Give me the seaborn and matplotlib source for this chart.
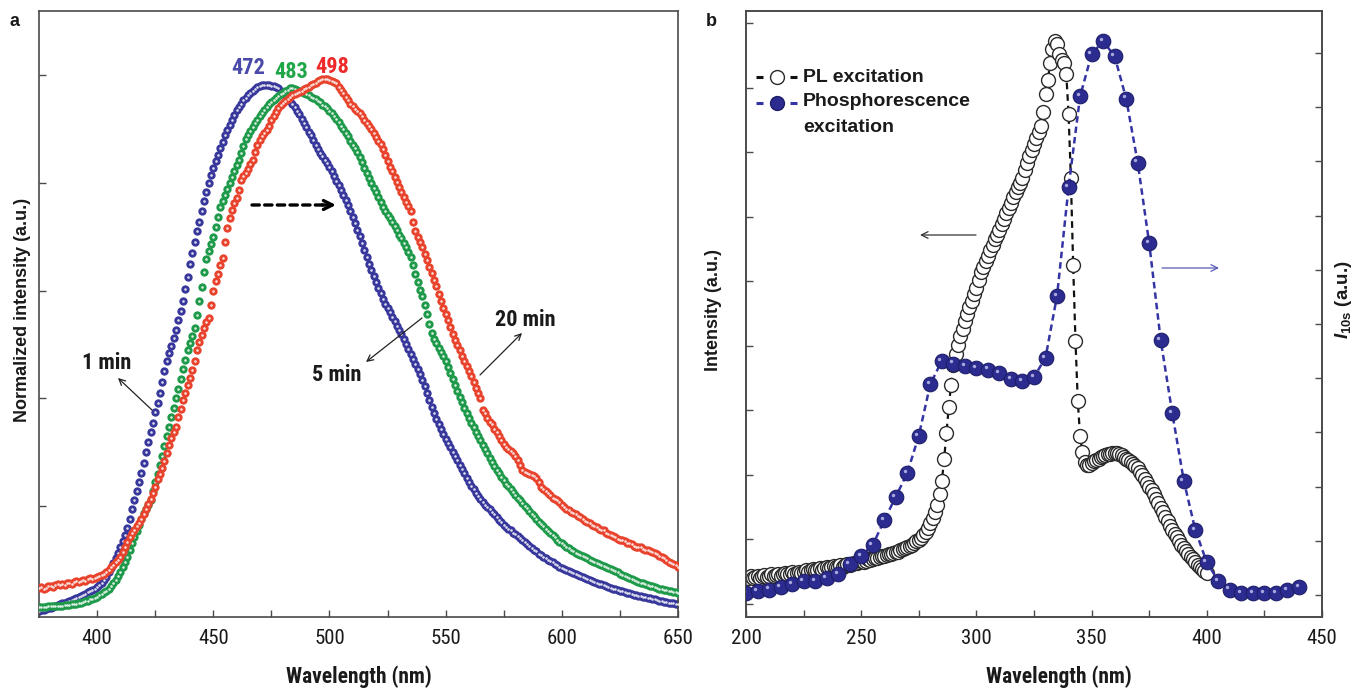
import numpy as np
import matplotlib
matplotlib.use("Agg")
import matplotlib.pyplot as plt
import matplotlib.transforms as mtransforms
import seaborn as sns

# ---------------- panel a: normalized emission spectra ----------------
wl_a = np.arange(375, 651)  # nm, 1 nm step

em_1min = [
    .006, .007, .008, .009, .011, .012, .013, .015, .016, .018,
    .020, .021, .023, .025, .026, .028, .030, .032, .034, .035,
    .037, .040, .042, .045, .047, .050, .054, .058, .063, .069,
    .077, .086, .095, .104, .114, .124, .135, .147, .160, .177,
    .195, .211, .228, .245, .262, .280, .300, .320, .338, .355,
    .375, .392, .410, .430, .450, .470, .484, .498, .512, .527,
    .545, .562, .580, .603, .626, .650, .670, .690, .710, .728,
    .748, .766, .783, .800, .815, .828, .840, .852, .865, .876,
    .888, .898, .907, .916, .926, .935, .941, .947, .953, .958,
    .963, .967, .971, .974, .977, .979, .981, .982, .982, .981,
    .980, .979, .978, .975, .971, .967, .962, .957, .952, .946,
    .940, .934, .927, .919, .911, .903, .895, .888, .879, .870,
    .862, .855, .849, .843, .837, .830, .822, .813, .804, .795,
    .786, .777, .768, .758, .748, .737, .725, .713, .701, .688,
    .675, .662, .650, .639, .627, .615, .605, .595, .585, .575,
    .568, .560, .551, .543, .535, .527, .519, .510, .500, .491,
    .482, .473, .464, .455, .445, .435, .423, .410, .397, .384,
    .372, .362, .352, .343, .334, .325, .317, .309, .301, .293,
    .285, .277, .269, .261, .253, .245, .238, .232, .225, .219,
    .213, .208, .203, .199, .194, .190, .185, .180, .175, .170,
    .165, .161, .158, .155, .151, .148, .144, .141, .137, .134,
    .130, .126, .123, .119, .116, .112, .109, .106, .103, .101,
    .098, .096, .093, .091, .088, .086, .084, .082, .080, .078,
    .076, .074, .072, .070, .068, .066, .064, .063, .061, .060,
    .058, .056, .055, .053, .052, .050, .049, .047, .046, .044,
    .043, .042, .041, .039, .038, .037, .036, .035, .034, .033,
    .032, .031, .030, .029, .028, .027, .026, .025, .024, .023,
    .022, .021, .020, .020, .019, .018,
]

em_5min = [
    .013, .013, .013, .013, .014, .014, .014, .014, .015, .015,
    .015, .016, .016, .017, .018, .018, .019, .020, .021, .022,
    .024, .025, .027, .028, .030, .032, .035, .037, .040, .043,
    .047, .052, .057, .063, .070, .078, .087, .096, .106, .118,
    .131, .143, .154, .165, .176, .187, .195, .203, .212, .228,
    .244, .260, .277, .294, .312, .330, .347, .365, .382, .400,
    .418, .436, .454, .472, .490, .503, .516, .530, .555, .580,
    .607, .634, .658, .673, .687, .700, .718, .737, .755, .766,
    .778, .789, .800, .811, .822, .833, .843, .855, .868, .882,
    .889, .896, .903, .910, .917, .923, .929, .935, .941, .946,
    .950, .954, .957, .961, .964, .967, .970, .973, .976, .975,
    .974, .973, .971, .969, .967, .965, .963, .960, .958, .955,
    .952, .949, .945, .942, .938, .934, .929, .924, .918, .912,
    .906, .900, .893, .886, .878, .871, .864, .857, .847, .838,
    .828, .818, .808, .800, .791, .782, .773, .764, .755, .748,
    .741, .734, .727, .719, .712, .704, .697, .689, .680, .671,
    .662, .647, .631, .615, .602, .590, .574, .556, .538, .522,
    .510, .502, .494, .486, .478, .470, .459, .448, .436, .424,
    .413, .403, .393, .383, .373, .364, .355, .346, .338, .330,
    .322, .314, .306, .298, .290, .282, .275, .268, .261, .255,
    .248, .242, .237, .231, .226, .221, .216, .211, .206, .201,
    .196, .191, .186, .181, .176, .171, .167, .163, .158, .154,
    .150, .146, .142, .138, .134, .131, .128, .125, .122, .119,
    .116, .114, .111, .109, .107, .105, .103, .101, .099, .097,
    .095, .093, .091, .089, .087, .085, .083, .081, .079, .077,
    .075, .073, .071, .069, .067, .065, .063, .062, .060, .058,
    .057, .055, .054, .052, .051, .050, .048, .047, .046, .045,
    .044, .043, .042, .041, .040, .039,
]

em_20min = [
    .048, .050, .047, .049, .051, .052, .050, .053, .055, .053,
    .056, .054, .057, .058, .056, .059, .061, .059, .061, .063,
    .062, .064, .066, .065, .067, .069, .071, .073, .075, .078,
    .082, .087, .091, .096, .101, .106, .115, .124, .134, .143,
    .150, .156, .163, .169, .177, .186, .195, .204, .214, .225,
    .235, .250, .259, .270, .283, .298, .314, .327, .337, .347,
    .366, .381, .397, .410, .424, .437, .452, .470, .489, .505,
    .518, .530, .541, .550, .574, .600, .617, .631, .647, .660,
    .690, .716, .734, .750, .762, .772, .786, .805, .812, .819,
    .826, .834, .842, .857, .871, .880, .887, .893, .898, .906,
    .916, .924, .931, .938, .944, .948, .952, .956, .959, .962,
    .965, .966, .969, .971, .974, .976, .978, .981, .984, .986,
    .988, .990, .992, .993, .992, .990, .988, .987, .985, .978,
    .972, .966, .960, .953, .947, .942, .937, .933, .929, .923,
    .917, .911, .906, .899, .892, .885, .878, .872, .863, .852,
    .841, .830, .821, .811, .801, .792, .783, .774, .765, .757,
    .748, .728, .710, .700, .690, .681, .668, .656, .644, .632,
    .620, .608, .594, .581, .568, .556, .545, .532, .520, .508,
    .499, .489, .479, .470, .460, .450, .441, .430, .419, .410,
    .400, .378, .372, .364, .357, .352, .344, .338, .330, .322,
    .316, .310, .306, .303, .299, .293, .286, .276, .267, .264,
    .262, .260, .258, .256, .252, .244, .236, .232, .229, .225,
    .220, .216, .213, .211, .207, .203, .199, .195, .192, .189,
    .187, .185, .182, .180, .177, .173, .171, .169, .166, .163,
    .161, .158, .156, .155, .151, .148, .146, .144, .143, .140,
    .138, .137, .135, .132, .131, .129, .127, .125, .124, .124,
    .121, .119, .118, .116, .115, .113, .112, .108, .105, .103,
    .100, .097, .094, .092, .090, .088,
]

series_a = ["1 min", "5 min", "20 min"]
colors_a = ["#38389c", "#1f9a4b", "#e8432d"]
peak_nm = ["472", "483", "498"]
peak_colors = ["#4a4aaa", "#1fa648", "#ef2a2a"]
xticks_a = [400, 450, 500, 550, 600, 650]

# ---------------- panel b: excitation spectra ----------------
wl_pl = np.arange(200, 401)  # nm, 1 nm step
pl_exc = [
    .40, .41, .43, .40, .42, .44, .41, .43, .45, .42,
    .44, .46, .43, .45, .47, .44, .46, .48, .46, .47,
    .49, .47, .48, .50, .48, .50, .52, .50, .52, .54,
    .52, .53, .55, .53, .55, .57, .55, .57, .59, .57,
    .58, .60, .58, .60, .62, .61, .62, .64, .63, .65,
    .66, .65, .67, .69, .68, .70, .72, .71, .73, .75,
    .74, .76, .78, .77, .79, .81, .80, .83, .85, .86,
    .88, .90, .92, .94, .97, .99, 1.03, 1.07, 1.12, 1.18,
    1.25, 1.33, 1.42, 1.54, 1.70, 1.90, 2.25, 2.65, 3.05, 3.40,
    3.70, 3.88, 4.02, 4.15, 4.26, 4.38, 4.50, 4.60, 4.70, 4.80,
    4.89, 5.02, 5.14, 5.23, 5.31, 5.39, 5.48, 5.57, 5.65, 5.72,
    5.80, 5.89, 5.97, 6.06, 6.14, 6.22, 6.31, 6.39, 6.46, 6.53,
    6.60, 6.72, 6.84, 6.94, 7.04, 7.13, 7.22, 7.31, 7.40, 7.62,
    7.90, 8.12, 8.38, 8.60, 8.72, 8.68, 8.52, 8.43, 8.38, 8.22,
    7.60, 6.60, 5.25, 4.08, 3.15, 2.60, 2.36, 2.20, 2.15, 2.16,
    2.18, 2.21, 2.23, 2.25, 2.27, 2.29, 2.31, 2.32, 2.33, 2.34,
    2.34, 2.34, 2.33, 2.31, 2.28, 2.25, 2.23, 2.20, 2.17, 2.14,
    2.10, 2.05, 2.00, 1.94, 1.88, 1.82, 1.76, 1.70, 1.63, 1.56,
    1.49, 1.42, 1.35, 1.28, 1.21, 1.15, 1.09, 1.04, 0.98, 0.92,
    0.87, 0.82, 0.78, 0.73, 0.69, 0.65, 0.61, 0.57, 0.54, 0.51,
    0.48,
]

wl_ph = np.arange(200, 441, 5)  # nm, 5 nm step
ph_exc = [
    0.04, 0.07, 0.10, 0.15, 0.20, 0.25, 0.26, 0.32, 0.39, 0.57,
    0.72, 0.92, 1.38, 1.81, 2.25, 2.94, 3.89, 4.32, 4.27, 4.22,
    4.18, 4.16, 4.09, 3.99, 3.94, 4.02, 4.38, 5.52, 7.52, 9.20,
    9.98, 10.22, 9.94, 9.16, 7.98, 6.49, 4.70, 3.36, 2.11, 1.20,
    0.60, 0.26, 0.10, 0.04, 0.04, 0.04, 0.04, 0.09, 0.15,
]
xticks_b = [200, 250, 300, 350, 400, 450]

# ---------------- figure ----------------
W, H = 1356, 688
sns.set_theme(style="white")
NARROW = ["Liberation Sans Narrow", "Arial Narrow", "Roboto Condensed",
          "Archivo Narrow", "Liberation Sans", "DejaVu Sans"]
WIDE = ["Liberation Sans", "DejaVu Sans"]
plt.rcParams["font.family"] = NARROW
plt.rcParams["mathtext.fontset"] = "custom"
plt.rcParams["mathtext.it"] = "Liberation Sans:italic:bold"
plt.rcParams["mathtext.bf"] = "Liberation Sans:bold"
plt.rcParams["mathtext.rm"] = "Liberation Sans:bold"

INK = "#1a1a1a"
SPINE = "#4a4a4a"

fig = plt.figure(figsize=(W / 100, H / 100), dpi=100)
fig.patch.set_facecolor("white")


def box(x0, y0, x1, y1):
    return [x0 / W, 1 - y1 / H, (x1 - x0) / W, (y1 - y0) / H]


axa = fig.add_axes(box(39, 11, 678, 617))
axb = fig.add_axes(box(746, 11, 1322, 617))


def fa(px, py):
    return ((px - 39) / 639, (617 - py) / 606)


def fb(px, py):
    return ((px - 746) / 576, (617 - py) / 606)


def style_axes(ax):
    for sp in ax.spines.values():
        sp.set_visible(True)
        sp.set_color(SPINE)
        sp.set_linewidth(1.2)
    ax.set_facecolor("white")


# --- panel a ---
z = 2
for vals, col in zip([em_1min, em_5min, em_20min], colors_a):
    sns.scatterplot(x=wl_a, y=vals, ax=axa, color=col, s=36, linewidth=0,
                    zorder=z, legend=False)
    sns.scatterplot(x=wl_a, y=vals, ax=axa, color="white", s=3.4, linewidth=0,
                    alpha=0.85, zorder=z + 1, legend=False)
    z += 2

axa.set_xlim(375, 650)
axa.set_ylim(-0.0056, 1.1187)
axa.set_xticks(xticks_a)
axa.set_xticklabels([str(t) for t in xticks_a])
axa.set_xticks([375, 425, 475, 525, 575, 625], minor=True)
axa.set_yticks([0.2, 0.4, 0.6, 0.8, 1.0])
axa.set_yticklabels([])
style_axes(axa)
axa.tick_params(axis="both", which="both", direction="in", length=5, width=1,
                color=SPINE, labelsize=15, labelcolor=INK, pad=9,
                top=False, right=False, bottom=True, left=True)
axa.set_xlabel("Wavelength (nm)", fontsize=15.5, fontweight="bold", color=INK,
               va="center")
axa.xaxis.set_label_coords(0.5, -0.099)
axa.set_ylabel("Normalized intensity (a.u.)", fontsize=13, fontweight="bold",
               color=INK, family=WIDE)
axa.yaxis.set_label_coords(-0.013, 0.507)

# peak positions
for (px, py), txt, col in zip([(248, 68), (291, 72), (332, 67)], peak_nm, peak_colors):
    axa.text(*fa(px, py), txt, transform=axa.transAxes, ha="center", va="center",
             fontsize=16, fontweight="bold", color=col, zorder=10)

# dashed shift arrow
axa.annotate("", xy=fa(327, 205), xytext=fa(252, 205), xycoords="axes fraction",
             arrowprops=dict(arrowstyle="-", lw=2.4, linestyle=(0, (2.2, 1.6)),
                             color="black", shrinkA=0, shrinkB=0), zorder=10)
axa.annotate("", xy=fa(336, 205), xytext=fa(322, 205), xycoords="axes fraction",
             arrowprops=dict(arrowstyle="->", lw=2.4, color="black",
                             shrinkA=0, shrinkB=0, mutation_scale=16), zorder=10)

# time labels with pointer arrows
for txt, tpos, start, tip in [
    ("1 min", (107, 363), (152, 410), (118, 378)),
    ("5 min", (337, 375), (422, 318), (366, 362)),
    ("20 min", (525, 320), (480, 375), (522, 333)),
]:
    axa.text(*fa(*tpos), txt, transform=axa.transAxes, ha="center", va="center",
             fontsize=16, fontweight="bold", color=INK, zorder=10)
    axa.annotate("", xy=fa(*tip), xytext=fa(*start), xycoords="axes fraction",
                 arrowprops=dict(arrowstyle="->", lw=0.9, color="#222222",
                                 shrinkA=0, shrinkB=0, mutation_scale=11), zorder=10)

# --- panel b ---
sns.lineplot(x=wl_pl, y=pl_exc, ax=axb, color="#111111", linewidth=1.6,
             linestyle=(0, (3, 2.2)), marker="o", markersize=10,
             markerfacecolor="white", markeredgecolor="#2a2a2a",
             markeredgewidth=1.0, errorbar=None, zorder=3)
axb.set_xlim(200, 450)
axb.set_ylim(-0.202, 9.19)
axb.set_xticks(xticks_b)
axb.set_xticklabels([str(t) for t in xticks_b])
axb.set_xticks([225, 275, 325, 375, 425], minor=True)
axb.set_yticks(range(0, 10))
axb.set_yticklabels([])
style_axes(axb)
axb.tick_params(axis="both", which="both", direction="in", length=5, width=1,
                color=SPINE, labelsize=15, labelcolor=INK, pad=9,
                top=False, right=False, bottom=True, left=True)
axb.set_xlabel("Wavelength (nm)", fontsize=15.5, fontweight="bold", color=INK,
               va="center")
axb.xaxis.set_label_coords(0.543, -0.099)
axb.set_ylabel("Intensity (a.u.)", fontsize=13, fontweight="bold", color=INK,
               family=WIDE)
axb.yaxis.set_label_coords(-0.042, 0.507)

axr = axb.twinx()
sns.lineplot(x=wl_ph, y=ph_exc, ax=axr, color="#3434a4", linewidth=1.8,
             linestyle=(0, (2.6, 1.6)), marker="o", markersize=10.5,
             markerfacecolor="#2c2c90", markeredgecolor="#1d1d6a",
             markeredgewidth=0.8, errorbar=None, zorder=3)
shine = mtransforms.offset_copy(axr.transData, fig=fig, x=-1.7, y=1.5, units="points")
sns.scatterplot(x=wl_ph, y=ph_exc, ax=axr, color="#a9a9e0", s=6, linewidth=0,
                transform=shine, zorder=4, legend=False)
axr.set_ylim(-0.407, 10.776)
axr.set_yticks(range(0, 11))
axr.set_yticklabels([])
axr.set_ylabel("")
for sp in axr.spines.values():
    sp.set_color(SPINE)
    sp.set_linewidth(1.2)
axr.tick_params(axis="y", direction="in", length=5, width=1, color=SPINE,
                right=True, left=False, labelright=False)

fig.text(1343 / W, 1 - 300 / H, r"$\mathit{I}_{\mathbf{10s}}$ (a.u.)", rotation=90,
         ha="center", va="center", fontsize=13.5, fontweight="bold", color=INK,
         family=WIDE)

# axis-direction arrows
axb.annotate("", xy=fb(920, 235), xytext=fb(976, 235), xycoords="axes fraction",
             arrowprops=dict(arrowstyle="->", lw=0.9, color="#333333",
                             shrinkA=0, shrinkB=0, mutation_scale=12), zorder=10)
axb.annotate("", xy=fb(1219, 268), xytext=fb(1162, 268), xycoords="axes fraction",
             arrowprops=dict(arrowstyle="->", lw=0.9, color="#5a5ab4",
                             shrinkA=0, shrinkB=0, mutation_scale=12), zorder=10)


# legend keys
def key(ax, py, face, edge, line_col):
    x0, y = fb(756, py)
    x1, _ = fb(763, py)
    x2, _ = fb(790, py)
    x3, _ = fb(797, py)
    xm, _ = fb(777, py)
    ax.plot([x0, x1], [y, y], transform=ax.transAxes, color=line_col, lw=2.2,
            solid_capstyle="butt", clip_on=False, zorder=12)
    ax.plot([x2, x3], [y, y], transform=ax.transAxes, color=line_col, lw=2.2,
            solid_capstyle="butt", clip_on=False, zorder=12)
    ax.plot([xm], [y], transform=ax.transAxes, marker="o", markersize=10,
            markerfacecolor=face, markeredgecolor=edge, markeredgewidth=1.0,
            linestyle="none", clip_on=False, zorder=12)


key(axr, 77, "white", "#2a2a2a", "#111111")
key(axr, 103, "#2c2c90", "#1d1d6a", "#3434a4")
for py, txt in [(77, "PL excitation"), (102, "Phosphorescence"), (127, "excitation")]:
    axr.text(*fb(803, py), txt, transform=axr.transAxes, ha="left", va="center",
             fontsize=14, fontweight="bold", color=INK, family=WIDE, zorder=12)

# panel letters
fig.text(14 / W, 1 - 22 / H, "a", ha="center", va="center", fontsize=13,
         fontweight="bold", color=INK, family=WIDE)
fig.text(711 / W, 1 - 22 / H, "b", ha="center", va="center", fontsize=13,
         fontweight="bold", color=INK, family=WIDE)

fig.savefig("out.png", dpi=100, facecolor="white")
